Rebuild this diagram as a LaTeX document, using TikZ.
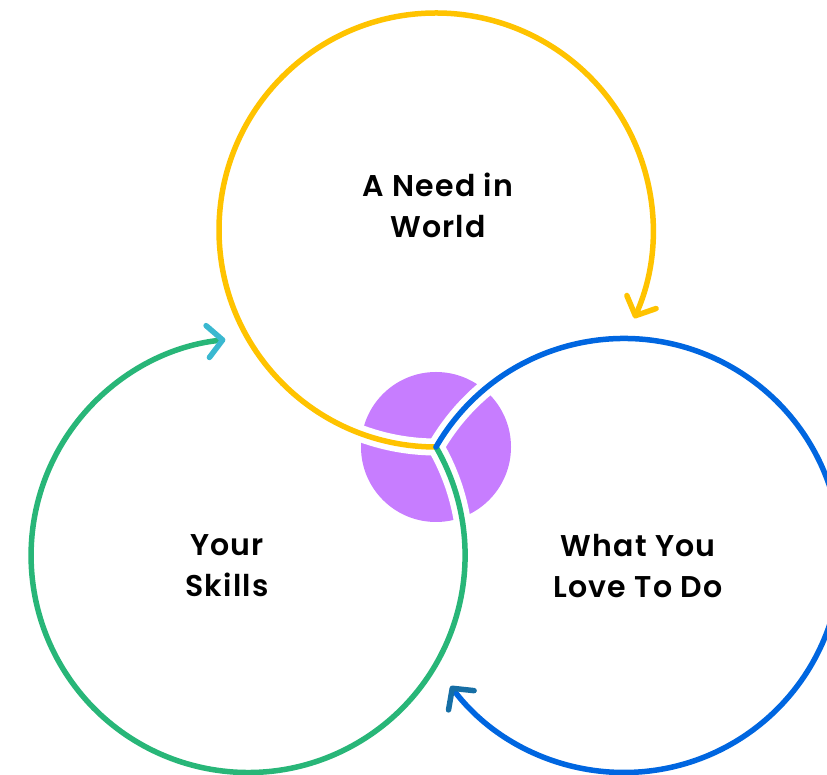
\documentclass[tikz,border=0pt]{standalone}
\usepackage{fontspec}
\setmainfont{Poppins}[BoldFont={Poppins SemiBold}, LetterSpace=4]
\usepackage{xcolor}
\usepackage{tikz}
\usetikzlibrary{arrows.meta}
\definecolor{needyellow}{RGB}{255,195,0}
\definecolor{skillgreen}{RGB}{40,182,120}
\definecolor{skillcyan}{RGB}{58,184,208}
\definecolor{loveblue}{RGB}{0,102,224}
\definecolor{lovetip}{RGB}{22,110,165}
\definecolor{hubpurple}{RGB}{199,125,255}
\tikzset{
    ring/.style={line width=5.5pt, line cap=round},
    halo/.style={line width=17pt, draw=white},
    hubdisc/.style={circle, fill=hubpurple, minimum size=150pt, inner sep=0pt},
    ringtext/.style={font=\fontsize{30}{41}\selectfont\bfseries, align=center, text=black},
    ringtip/.style={-{Straight Barb[length=15pt, width=32pt, round, color=#1]}}
}
\begin{document}
\begin{tikzpicture}[x=1pt, y=1pt]
    \useasboundingbox (0,0) rectangle (827,775);
    \clip (0,0) rectangle (827,775);

    % Meeting point of the three rings
    \coordinate (hub) at (436,328);
    \node[hubdisc] (core) at (hub) {};

    % White gaps where the rings cross the disc
    \begin{scope}
        \clip (hub) circle (80);
        \draw[halo] (hub) arc[start angle=270, end angle=220, radius=217];
        \draw[halo] (hub) arc[start angle=30, end angle=-20, radius=217];
        \draw[halo] (hub) arc[start angle=150, end angle=100, radius=217];
    \end{scope}

    % Rings
    \draw[ring, draw=needyellow, ringtip=needyellow] (hub) arc[start angle=270, end angle=-24, radius=217];
    \draw[ring, draw=skillgreen, ringtip=skillcyan] (hub) arc[start angle=30, end angle=-264, radius=217];
    \draw[ring, draw=loveblue, ringtip=lovetip] (hub) arc[start angle=150, end angle=-143, radius=217];

    % Labels
    \node[ringtext] (need) at (438,570) {A Need in\\World};
    \node[ringtext] (skills) at (227,209) {Your\\Skills};
    \node[ringtext] (love) at (638,209) {What You\\Love To Do};
\end{tikzpicture}
\end{document}
